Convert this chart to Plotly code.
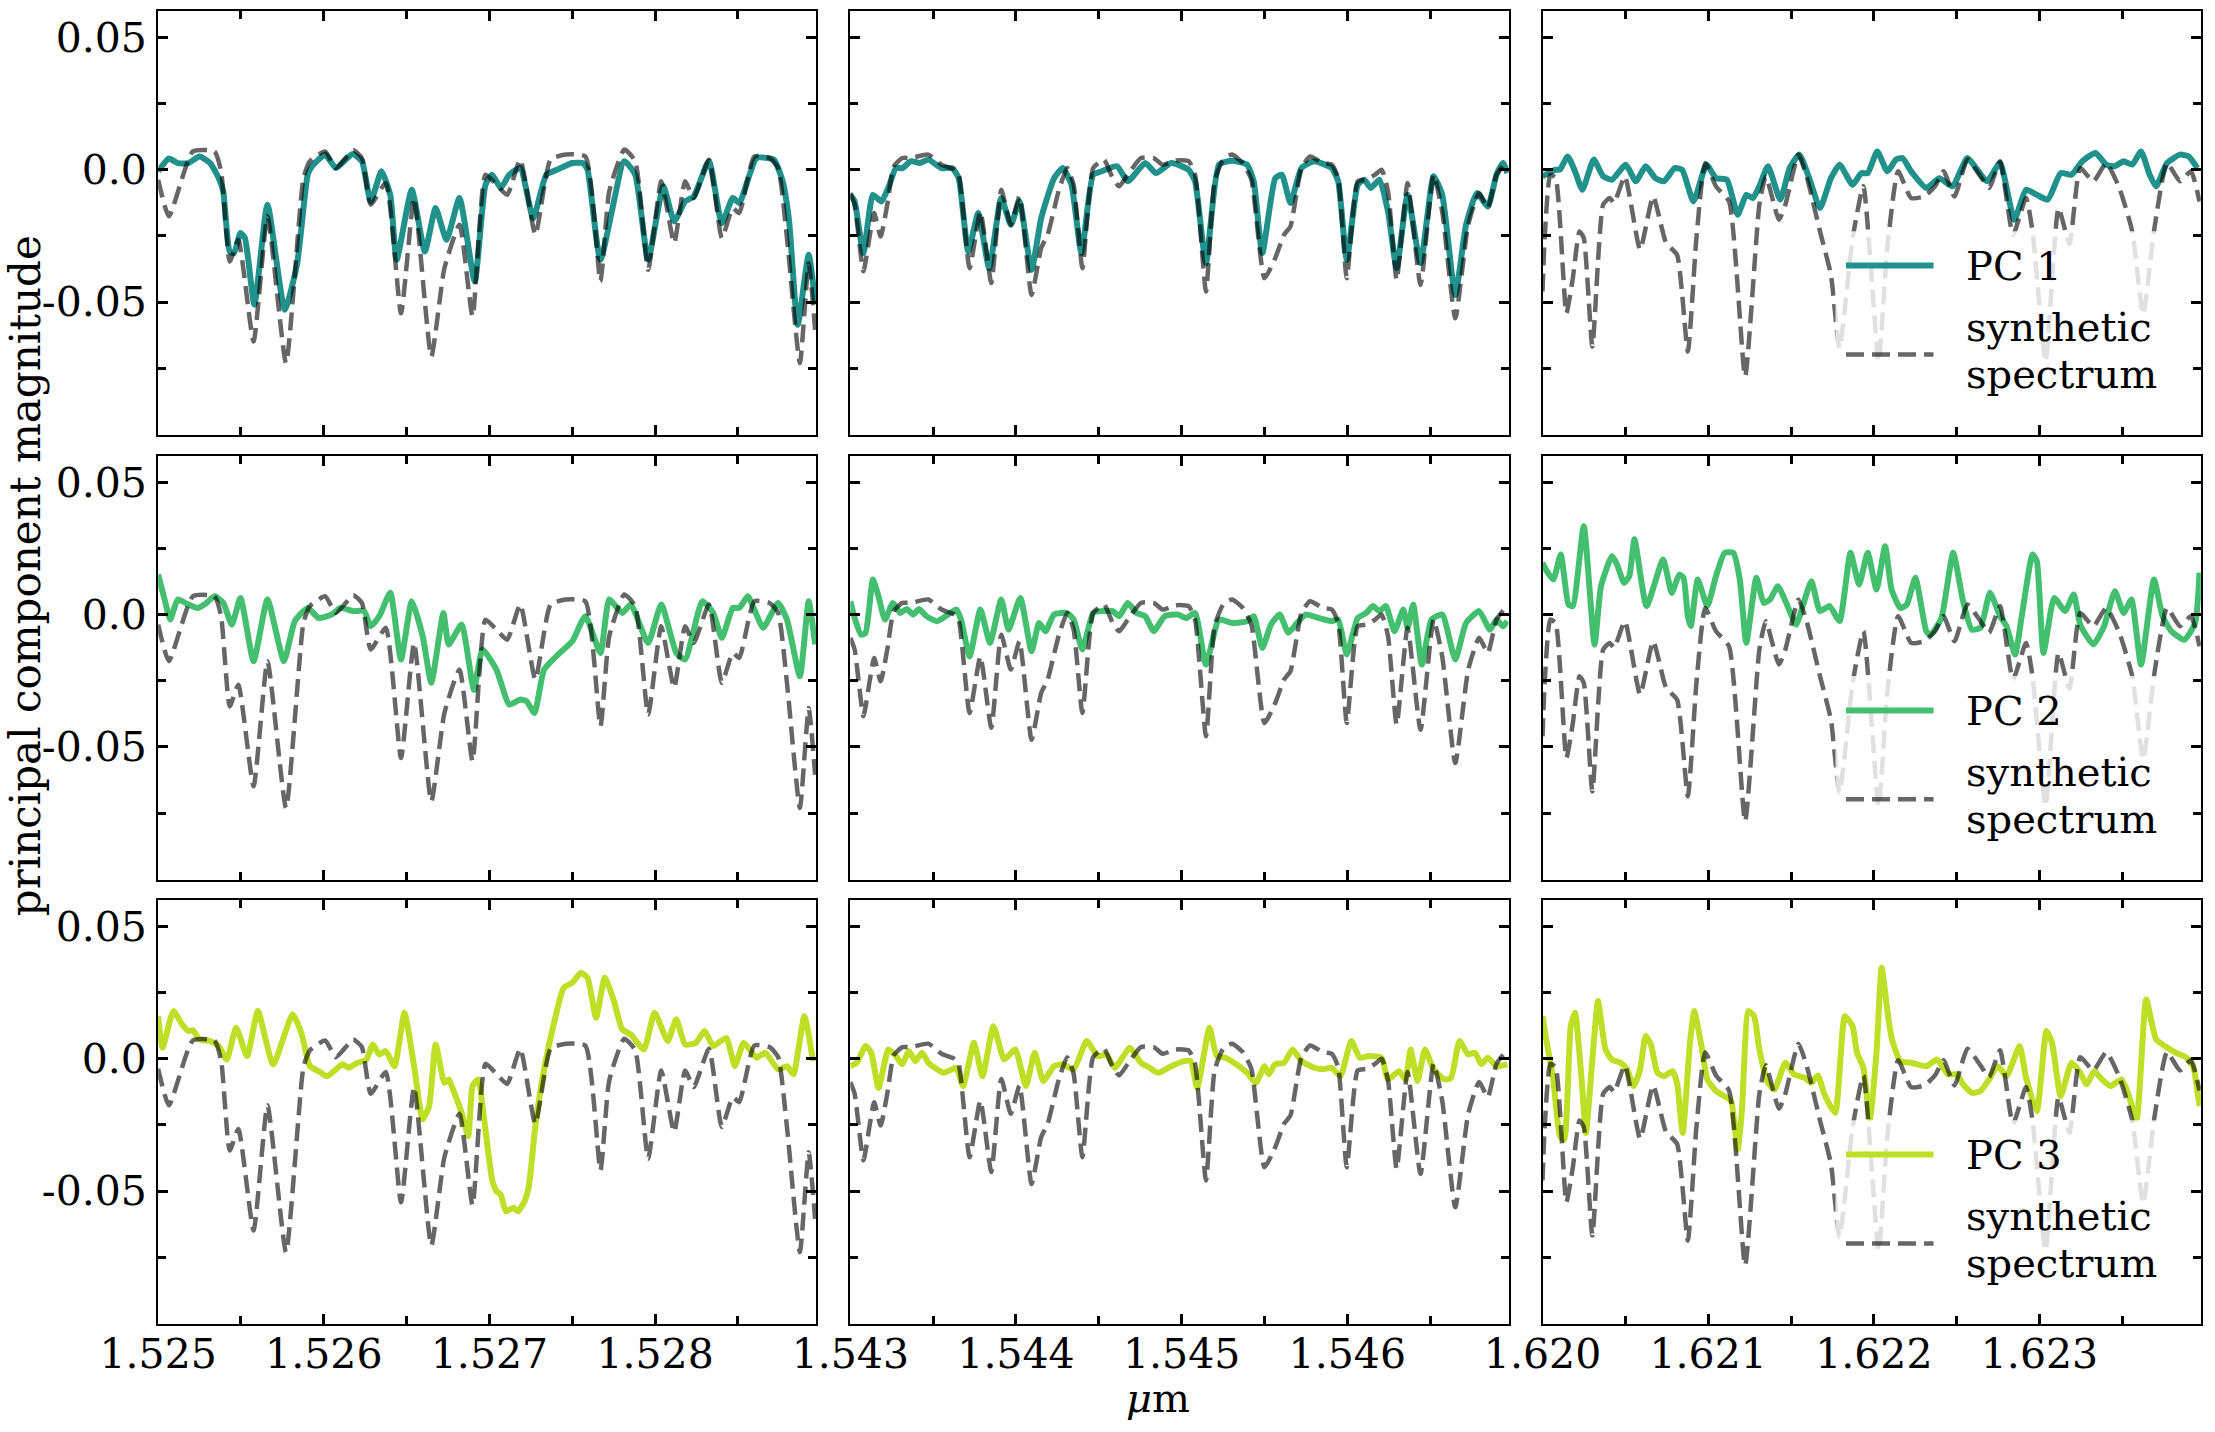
import plotly.graph_objects as go

# ---------------- data ----------------
WINDOW_START_UM = [1.525, 1.543, 1.620]   # start of each wavelength window
WINDOW_SPAN_UM = 0.003974
Y_RANGE = [-0.1002, 0.0598]
PC_NAMES = ["PC 1", "PC 2", "PC 3"]
PC_COLORS = ["#21918c", "#44bf70", "#bddf26"]
Y_TICK_VALUES = [-0.05, 0.0, 0.05]
Y_TICK_LABELS = ["-0.05", "0.0", "0.05"]

# wavelength offsets from window start (pm) and magnitudes
syn1_dpm = [0, 65, 209, 340, 380, 432, 484, 576, 660, 772, 877, 916, 1008, 1073, 1178, 1230, 1283, 1374, 1466, 1545,
            1649, 1728, 1819, 1898, 1976, 2042, 2107, 2186, 2277, 2369, 2461, 2579, 2670, 2723, 2814, 2880, 2958, 3037,
            3115, 3181, 3233, 3325, 3403, 3469, 3508, 3599, 3691, 3743, 3796, 3874, 3927, 3966]
syn1_val = [-0.0038, -0.0176, 0.0069, 0.0069, -0.0006, -0.0347, -0.0265, -0.0649, -0.0176, -0.0731, -0.0032, 0.0032,
            0.0069, 0.0006, 0.0073, 0.0044, -0.0132, -0.0050, -0.0542, -0.0107, -0.0706, -0.0372, -0.0208, -0.0554,
            -0.0019, -0.0057, -0.0095, 0.0038, -0.0246, 0.0038, 0.0057, 0.0050, -0.0422, -0.0082, 0.0076, 0.0032,
            -0.0378, -0.0044, -0.0277, -0.0044, -0.0107, 0.0038, -0.0258, -0.0145, -0.0164, 0.0050, 0.0044, 0.0006,
            -0.0258, -0.0731, -0.0353, -0.0605]

syn2_dpm = [0, 26, 79, 118, 144, 183, 223, 262, 314, 366, 471, 550, 628, 654, 720, 785, 851, 911, 969, 1021,
            1094, 1152, 1191, 1257, 1309, 1348, 1401, 1466, 1531, 1584, 1623, 1675, 1754, 1832, 1885, 1963, 2042, 2081,
            2147, 2199, 2251, 2304, 2369, 2421, 2500, 2565, 2618, 2657, 2723, 2775, 2853, 2906, 2945, 2997, 3063, 3115,
            3168, 3207, 3246, 3298, 3364, 3442, 3521, 3573, 3652, 3730, 3796, 3848, 3901, 3953]
syn2_val = [-0.0088, -0.0132, -0.0384, -0.0246, -0.0164, -0.0252, -0.0132, 0.0013, 0.0044, 0.0044, 0.0057, 0.0019,
            0.0, -0.0019, -0.0372, -0.0158, -0.0428, -0.0076, -0.0208, -0.0101, -0.0473, -0.0296, -0.0246, -0.0082,
            0.0006, -0.0057, -0.0372, 0.0006, 0.0038, -0.0032, -0.0063, -0.0019, 0.0044, 0.0044, 0.0019, 0.0035,
            0.0032, -0.0019, -0.0460, -0.0044, 0.0038, 0.0057, 0.0025, -0.0038, -0.0410, -0.0334, -0.0246, -0.0214,
            0.0006, 0.0050, 0.0025, 0.0019, -0.0032, -0.0410, -0.0044, -0.0038, -0.0019, 0.0, -0.0082, -0.0416,
            -0.0050, -0.0435, -0.0019, -0.0158, -0.0561, -0.0208, -0.0088, -0.0145, -0.0019, 0.0025]

syn3_dpm = [0, 13, 47, 79, 144, 183, 223, 249, 301, 366, 406, 432, 497, 589, 668, 746, 812, 877, 929, 982,
            1047, 1126, 1223, 1309, 1348, 1427, 1466, 1545, 1597, 1675, 1741, 1793, 1872, 1937, 2029, 2081, 2147, 2225,
            2304, 2369, 2421, 2487, 2565, 2644, 2696, 2762, 2840, 2919, 2958, 3037, 3115, 3181, 3246, 3325, 3403, 3482,
            3560, 3626, 3691, 3770, 3848, 3914, 3966]
syn3_val = [-0.0460, -0.0258, -0.0019, -0.0032, -0.0542, -0.0410, -0.0233, -0.0258, -0.0668, -0.0132, -0.0107,
            -0.0126, -0.0025, -0.0302, -0.0101, -0.0277, -0.0321, -0.0687, -0.0258, 0.0025, -0.0063, -0.0120, -0.0781,
            -0.0132, -0.0025, -0.0189, -0.0132, 0.0057, -0.0032, -0.0233, -0.0397, -0.0674, -0.0258, -0.0063, -0.0725,
            -0.0296, -0.0006, -0.0107, -0.0101, -0.0063, -0.0006, -0.0101, 0.0038, -0.0025, -0.0069, 0.0032, -0.0246,
            -0.0107, -0.0233, -0.0725, -0.0145, -0.0280, 0.0006, -0.0044, 0.0025, -0.0069, -0.0233, -0.0548, -0.0233,
            0.0025, -0.0044, -0.0006, -0.0120]

pc1_w1_dpm = [0, 65, 118, 183, 249, 314, 366, 393, 432, 458, 497, 524, 581, 660, 764, 838, 903, 929, 1008, 1073,
              1173, 1230, 1283, 1348, 1401, 1440, 1531, 1610, 1675, 1741, 1819, 1911, 1976, 2016, 2068, 2120, 2186,
              2264, 2343, 2408, 2500, 2565, 2592, 2670, 2814, 2880, 2958, 3050, 3115, 3181, 3233, 3325, 3403, 3469,
              3508, 3613, 3717, 3770, 3809, 3861, 3927, 3966]
pc1_w1_val = [-0.0006, 0.0042, 0.0025, 0.0025, 0.0050, 0.0025, -0.0032, -0.0082, -0.0309, -0.0315, -0.0239, -0.0258,
              -0.0510, -0.0132, -0.0529, -0.0359, -0.0019, 0.0013, 0.0057, 0.0006, 0.0059, 0.0032, -0.0120, -0.0006,
              -0.0095, -0.0340, -0.0076, -0.0309, -0.0145, -0.0265, -0.0107, -0.0422, -0.0057, -0.0019, -0.0069,
              -0.0019, 0.0006, -0.0183, -0.0019, 0.0, 0.0025, 0.0025, 0.0, -0.0340, 0.0032, -0.0019, -0.0340, -0.0063,
              -0.0195, -0.0120, -0.0101, 0.0032, -0.0202, -0.0107, -0.0126, 0.0044, 0.0038, -0.0044, -0.0195, -0.0586,
              -0.0321, -0.0498]

pc1_w2_dpm = [0, 26, 79, 136, 188, 236, 275, 314, 366, 419, 471, 550, 615, 654, 712, 772, 838, 911, 969, 1021,
              1094, 1152, 1230, 1283, 1335, 1395, 1466, 1518, 1610, 1675, 1780, 1846, 1937, 2042, 2081, 2147, 2225,
              2304, 2395, 2435, 2487, 2565, 2605, 2657, 2723, 2801, 2906, 2945, 2997, 3063, 3102, 3141, 3194, 3246,
              3298, 3364, 3442, 3521, 3573, 3652, 3717, 3783, 3848, 3901, 3940, 3966]
pc1_w2_val = [-0.0095, -0.0120, -0.0315, -0.0095, -0.0120, -0.0057, 0.0006, 0.0006, 0.0032, 0.0025, 0.0038, 0.0006,
              0.0006, -0.0032, -0.0309, -0.0164, -0.0372, -0.0107, -0.0208, -0.0120, -0.0378, -0.0183, -0.0032, 0.0006,
              -0.0057, -0.0315, -0.0019, -0.0006, 0.0013, -0.0044, 0.0025, -0.0013, 0.0025, 0.0, -0.0044, -0.0353,
              0.0019, 0.0034, 0.0019, -0.0044, -0.0315, -0.0032, -0.0019, -0.0126, 0.0006, 0.0032, 0.0006, -0.0044,
              -0.0340, -0.0057, -0.0038, -0.0069, -0.0038, -0.0158, -0.0372, -0.0095, -0.0353, -0.0025, -0.0095,
              -0.0473, -0.0208, -0.0088, -0.0139, -0.0019, 0.0025, -0.0013]

pc1_w3_dpm = [0, 39, 79, 105, 152, 196, 241, 309, 366, 419, 503, 563, 623, 681, 733, 798, 843, 911, 990, 1047,
              1113, 1178, 1230, 1270, 1309, 1361, 1435, 1492, 1550, 1610, 1675, 1741, 1793, 1872, 1924, 1963, 2021,
              2081, 2134, 2173, 2225, 2317, 2395, 2474, 2565, 2618, 2683, 2762, 2848, 2919, 2984, 3050, 3128, 3194,
              3259, 3338, 3403, 3455, 3508, 3560, 3613, 3665, 3704, 3770, 3848, 3901, 3953]
pc1_w3_val = [-0.0025, -0.0013, 0.0, 0.0, 0.0050, -0.0006, -0.0076, 0.0038, -0.0025, -0.0038, 0.0019, -0.0044, 0.0013,
              -0.0032, -0.0044, 0.0006, 0.0, -0.0120, 0.0019, -0.0032, -0.0038, -0.0170, -0.0095, -0.0107, -0.0063,
              0.0013, -0.0113, 0.0006, 0.0057, -0.0032, -0.0145, -0.0032, 0.0019, -0.0057, -0.0013, -0.0013, 0.0069,
              -0.0006, 0.0038, 0.0044, -0.0006, -0.0069, -0.0032, -0.0063, 0.0044, 0.0006, -0.0044, 0.0025, -0.0189,
              -0.0076, -0.0095, -0.0113, -0.0013, -0.0019, 0.0032, 0.0063, 0.0019, 0.0013, 0.0032, 0.0019, 0.0069,
              -0.0019, -0.0063, 0.0025, 0.0057, 0.0050, 0.0006]

pc2_w1_dpm = [0, 39, 73, 118, 170, 236, 288, 340, 393, 445, 497, 576, 660, 759, 825, 903, 969, 1047, 1099, 1178,
              1243, 1283, 1335, 1401, 1466, 1531, 1597, 1649, 1722, 1754, 1832, 1906, 1958, 2042, 2120, 2186, 2225,
              2272, 2330, 2435, 2500, 2579, 2670, 2723, 2801, 2853, 2958, 3037, 3128, 3181, 3285, 3351, 3403, 3469,
              3508, 3560, 3599, 3652, 3743, 3796, 3874, 3927, 3966]
pc2_w1_val = [0.0151, 0.0057, -0.0019, 0.0057, 0.0042, 0.0025, 0.0042, 0.0069, 0.0044, -0.0038, 0.0063, -0.0176,
              0.0057, -0.0176, -0.0025, 0.0025, -0.0013, 0.0, 0.0025, 0.0013, 0.0013, -0.0044, -0.0006, 0.0082,
              -0.0170, 0.0050, -0.0082, -0.0258, 0.0006, -0.0113, -0.0038, -0.0284, -0.0132, -0.0208, -0.0340,
              -0.0321, -0.0328, -0.0372, -0.0208, -0.0139, -0.0101, -0.0006, -0.0145, 0.0057, 0.0006, 0.0038, -0.0107,
              0.0038, -0.0145, -0.0170, 0.0050, 0.0006, -0.0088, 0.0025, 0.0025, 0.0069, 0.0019, -0.0050, 0.0044,
              -0.0019, -0.0233, 0.0050, -0.0113]

pc2_w2_dpm = [0, 26, 65, 92, 136, 170, 209, 257, 301, 340, 380, 414, 458, 524, 589, 641, 668, 720, 785, 843,
              911, 955, 1026, 1094, 1139, 1178, 1230, 1309, 1348, 1401, 1466, 1518, 1584, 1623, 1675, 1728, 1780,
              1832, 1898, 1976, 2029, 2081, 2147, 2225, 2304, 2395, 2435, 2487, 2539, 2592, 2644, 2696, 2749, 2827,
              2906, 2945, 2997, 3063, 3115, 3154, 3194, 3233, 3285, 3338, 3364, 3398, 3450, 3508, 3573, 3652, 3717,
              3796, 3861, 3901, 3940, 3966]
pc2_w2_val = [0.0050, -0.0013, -0.0076, -0.0069, 0.0132, 0.0069, -0.0019, 0.0044, 0.0006, 0.0021, 0.0, 0.0021,
              -0.0006, -0.0025, 0.0, 0.0019, -0.0019, -0.0158, 0.0019, -0.0107, 0.0057, -0.0057, 0.0063, -0.0139,
              -0.0032, -0.0063, 0.0, 0.0006, -0.0019, -0.0132, 0.0006, 0.0013, 0.0013, -0.0006, 0.0044, 0.0006,
              -0.0006, -0.0063, -0.0006, 0.0, -0.0013, 0.0006, -0.0189, -0.0019, -0.0032, -0.0025, -0.0006, -0.0126,
              -0.0038, 0.0, -0.0069, -0.0032, 0.0, -0.0013, -0.0025, -0.0019, -0.0151, -0.0013, 0.0006, 0.0032,
              0.0013, 0.0032, -0.0063, 0.0019, -0.0050, 0.0038, -0.0189, -0.0019, 0.0, -0.0170, -0.0032, 0.0013,
              -0.0057, -0.0019, -0.0044, -0.0025]

pc2_w3_dpm = [0, 26, 65, 110, 157, 183, 249, 314, 353, 419, 450, 492, 524, 555, 628, 728, 780, 825, 851, 877,
              895, 937, 995, 1047, 1099, 1152, 1191, 1230, 1291, 1335, 1374, 1421, 1492, 1531, 1571, 1623, 1675, 1733,
              1793, 1859, 1911, 1963, 2016, 2068, 2107, 2160, 2199, 2251, 2317, 2343, 2408, 2479, 2539, 2592, 2644,
              2701, 2762, 2801, 2853, 2893, 2958, 2984, 3024, 3089, 3154, 3207, 3246, 3325, 3390, 3455, 3508, 3555,
              3613, 3691, 3743, 3796, 3874, 3940, 3966]
pc2_w3_val = [0.0195, 0.0164, 0.0132, 0.0227, 0.0038, 0.0032, 0.0334, -0.0113, 0.0107, 0.0221, 0.0189, 0.0120, 0.0145,
              0.0284, 0.0032, 0.0208, 0.0082, 0.0151, 0.0139, -0.0006, -0.0044, 0.0132, 0.0032, 0.0145, 0.0233, 0.0233,
              0.0132, -0.0107, 0.0139, 0.0044, 0.0057, 0.0107, 0.0013, -0.0038, 0.0032, 0.0126, 0.0013, 0.0032,
              -0.0025, 0.0233, 0.0113, 0.0233, 0.0095, 0.0258, 0.0095, 0.0025, 0.0038, 0.0139, -0.0063, -0.0076,
              -0.0013, 0.0233, 0.0050, -0.0057, -0.0050, 0.0082, -0.0006, -0.0044, -0.0151, -0.0006, 0.0227, 0.0202,
              -0.0145, 0.0063, 0.0013, 0.0076, -0.0038, -0.0113, -0.0044, 0.0088, 0.0006, 0.0057, -0.0189, 0.0132,
              -0.0006, -0.0063, -0.0095, -0.0032, 0.0158]

pc3_w1_dpm = [0, 26, 92, 144, 183, 209, 249, 314, 366, 414, 471, 537, 602, 694, 812, 864, 916, 969, 1021, 1073,
              1113, 1152, 1204, 1257, 1296, 1335, 1374, 1427, 1487, 1545, 1597, 1636, 1675, 1728, 1754, 1780, 1832,
              1872, 1898, 1932, 1963, 2016, 2042, 2068, 2099, 2147, 2173, 2212, 2238, 2277, 2330, 2395, 2448, 2500,
              2552, 2592, 2644, 2696, 2749, 2801, 2853, 2932, 2997, 3076, 3128, 3181, 3246, 3298, 3351, 3429, 3482,
              3534, 3613, 3665, 3743, 3796, 3835, 3901, 3953]
pc3_w1_val = [0.0161, 0.0042, 0.0180, 0.0130, 0.0105, 0.0108, 0.0073, 0.0067, 0.0048, -0.0003, 0.0117, 0.0010, 0.0180,
              -0.0021, 0.0168, 0.0098, -0.0028, -0.0047, -0.0066, -0.0040, -0.0021, -0.0034, -0.0015, -0.0003, 0.0054,
              0.0016, 0.0029, -0.0028, 0.0174, -0.0028, -0.0229, -0.0179, 0.0054, -0.0091, -0.0078, -0.0116, -0.0204,
              -0.0292, -0.0103, -0.0078, -0.0204, -0.0456, -0.0500, -0.0513, -0.0576, -0.0563, -0.0576, -0.0538,
              -0.0481, -0.0255, -0.0040, 0.0149, 0.0268, 0.0287, 0.0325, 0.0306, 0.0155, 0.0306, 0.0224, 0.0111,
              0.0092, 0.0035, 0.0174, 0.0067, 0.0149, 0.0054, 0.0060, 0.0105, 0.0048, 0.0079, -0.0028, 0.0060, 0.0004,
              0.0023, -0.0040, -0.0028, -0.0059, 0.0161, -0.0009]

pc3_w2_dpm = [0, 39, 92, 126, 170, 230, 275, 314, 353, 393, 432, 471, 510, 563, 615, 641, 681, 746, 798, 864,
              929, 995, 1060, 1113, 1165, 1230, 1283, 1348, 1427, 1492, 1545, 1597, 1688, 1754, 1806, 1859, 1937,
              2016, 2055, 2094, 2168, 2212, 2264, 2330, 2395, 2448, 2500, 2526, 2565, 2618, 2670, 2723, 2801, 2853,
              2906, 2958, 3024, 3076, 3128, 3207, 3246, 3312, 3351, 3382, 3424, 3469, 3521, 3586, 3626, 3678, 3730,
              3770, 3809, 3848, 3901, 3966]
pc3_w2_val = [-0.0028, -0.0015, 0.0048, 0.0023, -0.0110, 0.0035, 0.0010, -0.0021, 0.0029, -0.0009, 0.0023, -0.0015,
              -0.0034, -0.0053, -0.0040, -0.0034, -0.0103, 0.0060, -0.0066, 0.0123, -0.0003, 0.0035, -0.0103, 0.0023,
              -0.0084, -0.0028, -0.0021, -0.0040, 0.0067, 0.0010, 0.0016, -0.0034, 0.0042, -0.0015, -0.0034, -0.0053,
              -0.0028, -0.0009, -0.0009, -0.0110, 0.0117, 0.0010, 0.0004, -0.0021, -0.0053, -0.0091, -0.0028, -0.0059,
              -0.0021, -0.0015, 0.0035, -0.0009, -0.0034, -0.0040, -0.0034, -0.0066, 0.0067, 0.0004, 0.0010, 0.0004,
              -0.0078, -0.0047, -0.0078, 0.0035, -0.0084, 0.0035, -0.0040, -0.0078, -0.0072, 0.0067, 0.0016, 0.0023,
              -0.0021, 0.0004, -0.0028, -0.0021]

pc3_w3_dpm = [0, 26, 65, 105, 131, 170, 196, 236, 262, 301, 335, 380, 419, 471, 510, 550, 589, 623, 654, 694,
              733, 785, 812, 846, 890, 916, 956, 995, 1047, 1113, 1139, 1178, 1204, 1243, 1277, 1309, 1361, 1401,
              1466, 1518, 1584, 1623, 1662, 1702, 1767, 1825, 1872, 1898, 1937, 1976, 2016, 2047, 2081, 2107, 2160,
              2225, 2317, 2382, 2448, 2500, 2539, 2592, 2644, 2696, 2749, 2801, 2880, 2919, 2984, 3042, 3076, 3128,
              3194, 3246, 3285, 3330, 3377, 3429, 3495, 3534, 3586, 3644, 3704, 3757, 3822, 3887, 3927, 3966]
pc3_w3_val = [0.0161, 0.0060, -0.0078, -0.0292, -0.0305, 0.0123, 0.0174, -0.0078, -0.0280, -0.0003, 0.0218, 0.0035,
              -0.0003, -0.0015, -0.0040, -0.0103, -0.0040, 0.0086, 0.0054, -0.0053, -0.0066, -0.0047, -0.0091, -0.0280,
              0.0060, 0.0180, 0.0060, -0.0078, -0.0122, -0.0147, -0.0160, -0.0343, -0.0192, 0.0180, 0.0161, 0.0035,
              -0.0091, -0.0116, -0.0015, -0.0059, -0.0072, -0.0091, -0.0063, -0.0135, -0.0204, 0.0161, 0.0123, 0.0023,
              -0.0034, -0.0229, 0.0023, 0.0344, 0.0186, 0.0079, -0.0009, -0.0015, -0.0028, -0.0003, -0.0059, -0.0059,
              -0.0097, -0.0129, -0.0122, -0.0078, -0.0028, -0.0066, 0.0048, -0.0072, -0.0198, 0.0105, 0.0060, -0.0141,
              -0.0015, -0.0053, -0.0097, -0.0047, -0.0078, -0.0103, -0.0078, -0.0129, -0.0229, 0.0224, 0.0073, 0.0048,
              0.0023, 0.0004, -0.0028, -0.0179]

SYNTHETIC = [(syn1_dpm, syn1_val), (syn2_dpm, syn2_val), (syn3_dpm, syn3_val)]
PCS = [
    [(pc1_w1_dpm, pc1_w1_val), (pc1_w2_dpm, pc1_w2_val), (pc1_w3_dpm, pc1_w3_val)],
    [(pc2_w1_dpm, pc2_w1_val), (pc2_w2_dpm, pc2_w2_val), (pc2_w3_dpm, pc2_w3_val)],
    [(pc3_w1_dpm, pc3_w1_val), (pc3_w2_dpm, pc3_w2_val), (pc3_w3_dpm, pc3_w3_val)],
]

# ---------------- figure ----------------
FONT = "DejaVu Serif"
FS_TICK = 41
FS_TEXT = 40
X_DOMAINS = [[0.0714, 0.3686], [0.3839, 0.6811], [0.6964, 0.9936]]
Y_DOMAINS = [[0.6962, 0.9921], [0.3856, 0.6814], [0.0754, 0.3712]]
SYN_COLOR = "rgba(0,0,0,0.6)"

fig = go.Figure()
layout_axes = {}
shapes = []
annotations = []

for r in range(3):
    for c in range(3):
        idx = r * 3 + c + 1
        sfx = "" if idx == 1 else str(idx)
        xa, ya = "x" + sfx, "y" + sfx
        start = WINDOW_START_UM[c]
        dpm, val = PCS[r][c]
        fig.add_trace(go.Scatter(
            x=[start + d * 1e-6 for d in dpm], y=val, mode="lines", name=PC_NAMES[r],
            line=dict(color=PC_COLORS[r], width=6, shape="spline", smoothing=0.5),
            xaxis=xa, yaxis=ya, showlegend=False, hoverinfo="skip"))
        sd, sv = SYNTHETIC[c]
        fig.add_trace(go.Scatter(
            x=[start + d * 1e-6 for d in sd], y=sv, mode="lines", name="synthetic spectrum",
            line=dict(color=SYN_COLOR, width=4.5, dash="18px,8px", shape="spline", smoothing=0.5),
            xaxis=xa, yaxis=ya, showlegend=False, hoverinfo="skip"))

        common = dict(showline=True, linecolor="black", linewidth=2, mirror="allticks",
                      ticks="inside", ticklen=10, tickwidth=2.5, tickcolor="black",
                      showgrid=False, zeroline=False, automargin=False,
                      tickfont=dict(family=FONT, size=FS_TICK, color="black"))
        layout_axes["xaxis" + sfx] = dict(
            common, domain=X_DOMAINS[c], anchor=ya,
            range=[start, start + WINDOW_SPAN_UM], tickmode="linear", tick0=start, dtick=0.001,
            tickformat=".3f", showticklabels=(r == 2), ticklabelstandoff=-7,
            minor=dict(tickmode="linear", tick0=start, dtick=0.0005, ticks="inside",
                       ticklen=8, tickwidth=2.5, tickcolor="black", showgrid=False))
        layout_axes["yaxis" + sfx] = dict(
            common, domain=Y_DOMAINS[r], anchor=xa, range=Y_RANGE,
            tickmode="array", tickvals=Y_TICK_VALUES, ticktext=Y_TICK_LABELS,
            showticklabels=(c == 0), ticklabelstandoff=1,
            minor=dict(tickmode="linear", tick0=0, dtick=0.025, ticks="inside",
                       ticklen=8, tickwidth=2.5, tickcolor="black", showgrid=False))

    # legend inside the right-hand panel of each row
    idx = r * 3 + 3
    xr, yr = "x%d domain" % idx, "y%d domain" % idx
    shapes.append(dict(type="rect", xref=xr, yref=yr, x0=0.445, x1=0.972, y0=0.064, y1=0.481,
                       fillcolor="rgba(255,255,255,0.8)", line=dict(width=0), layer="above"))
    shapes.append(dict(type="line", xref=xr, yref=yr, x0=0.461, x1=0.594, y0=0.40, y1=0.40,
                       line=dict(color=PC_COLORS[r], width=6), layer="above"))
    shapes.append(dict(type="line", xref=xr, yref=yr, x0=0.461, x1=0.594, y0=0.19, y1=0.19,
                       line=dict(color=SYN_COLOR, width=4.5, dash="18px,8px"), layer="above"))
    for txt, yy in [(PC_NAMES[r], 0.399), ("synthetic", 0.254), ("spectrum", 0.144)]:
        annotations.append(dict(text=txt, xref=xr, yref=yr, x=0.6400, y=yy, xanchor="left",
                                yanchor="middle", showarrow=False,
                                font=dict(family=FONT, size=FS_TEXT, color="black")))

annotations.append(dict(text="<i>μ</i>m", xref="paper", yref="paper", x=0.5228, y=0.0237,
                        xanchor="center", yanchor="middle", showarrow=False,
                        font=dict(family=FONT, size=FS_TEXT, color="black")))
annotations.append(dict(text="principal component magnitude", xref="paper", yref="paper",
                        x=0.0, y=0.598, xanchor="left", yanchor="middle", textangle=-90,
                        borderpad=0, showarrow=False, font=dict(family=FONT, size=42, color="black")))

fig.update_layout(
    width=2215, height=1432, margin=dict(l=0, r=0, t=0, b=0),
    paper_bgcolor="white", plot_bgcolor="white", showlegend=False,
    shapes=shapes, annotations=annotations, **layout_axes)

fig.write_html("out.html")
